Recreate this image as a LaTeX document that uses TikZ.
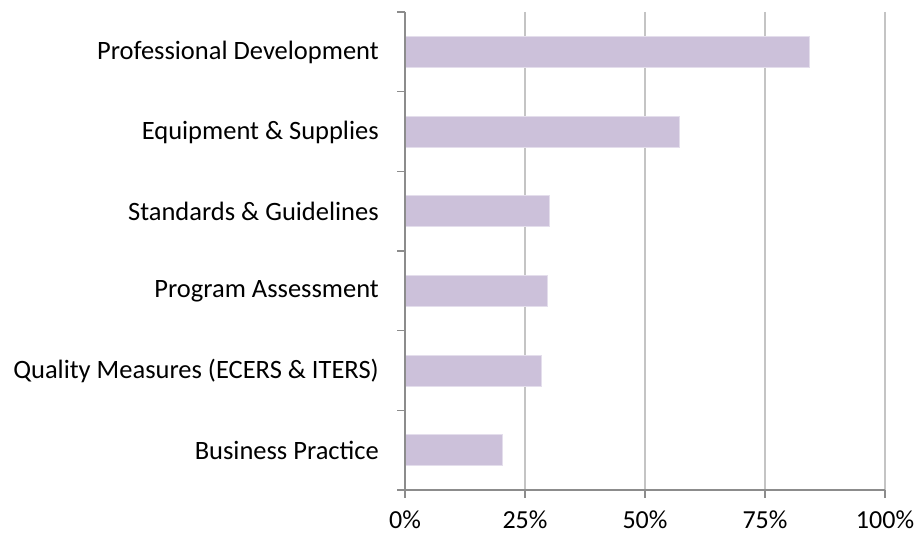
\documentclass[tikz,border=0pt]{standalone}
\usepackage{fontspec}
\setmainfont{Carlito}
\definecolor{barfill}{HTML}{CCC1DA}
\definecolor{barline}{HTML}{E4DEEC}
\definecolor{gridc}{HTML}{C4C4C4}
\definecolor{axisc}{HTML}{8C8C8C}
\begin{document}
\begin{tikzpicture}[x=1pt,y=-1pt,
  gridline/.style={draw=gridc,line width=1.3pt},
  axisline/.style={draw=axisc,line width=1.3pt},
  bar/.style={fill=barfill,draw=barline,line width=0.6pt},
  catlabel/.style={anchor=east,inner sep=0pt,font=\fontsize{26.5}{30}\selectfont},
  ticklabel/.style={anchor=base,inner sep=0pt,font=\fontsize{26}{30}\selectfont}]
\useasboundingbox (0,0) rectangle (917,535);
% gridlines
\foreach \g in {525,645,765,885} \draw[gridline] (\g,12) -- (\g,490);
% bars
\def\barh{15.5}
\foreach \c/\v in {51.5/84.15,131.3/57.1,211/30.0,291/29.6,370.5/28.3,450/20.3}
  \path[bar] (405,\c-\barh) rectangle (405+4.8*\v,\c+\barh);
% axes
\draw[axisline] (405,12) -- (405,490);
\draw[axisline] (397,490) -- (885,490);
\foreach \t in {12,91.7,171.3,251,330.7,410.3} \draw[axisline] (397,\t) -- (405,\t);
\foreach \g in {405,525,645,765,885} \draw[axisline] (\g,490) -- (\g,498);
% labels
\node[catlabel] (l1) at (379,52) {Professional Development};
\node[catlabel] (l2) at (379,132) {Equipment \& Supplies};
\node[catlabel] (l3) at (379,211.5) {Standards \& Guidelines};
\node[catlabel] (l4) at (379,291.5) {Program Assessment};
\node[catlabel] (l5) at (379,371) {Quality Measures (ECERS \& ITERS)};
\node[catlabel] (l6) at (379,450.5) {Business Practice};
\node[ticklabel] (t0) at (405,528) {0\%};
\node[ticklabel] (t1) at (525,528) {25\%};
\node[ticklabel] (t2) at (645,528) {50\%};
\node[ticklabel] (t3) at (765,528) {75\%};
\node[ticklabel] (t4) at (885,528) {100\%};
\end{tikzpicture}
\end{document}
